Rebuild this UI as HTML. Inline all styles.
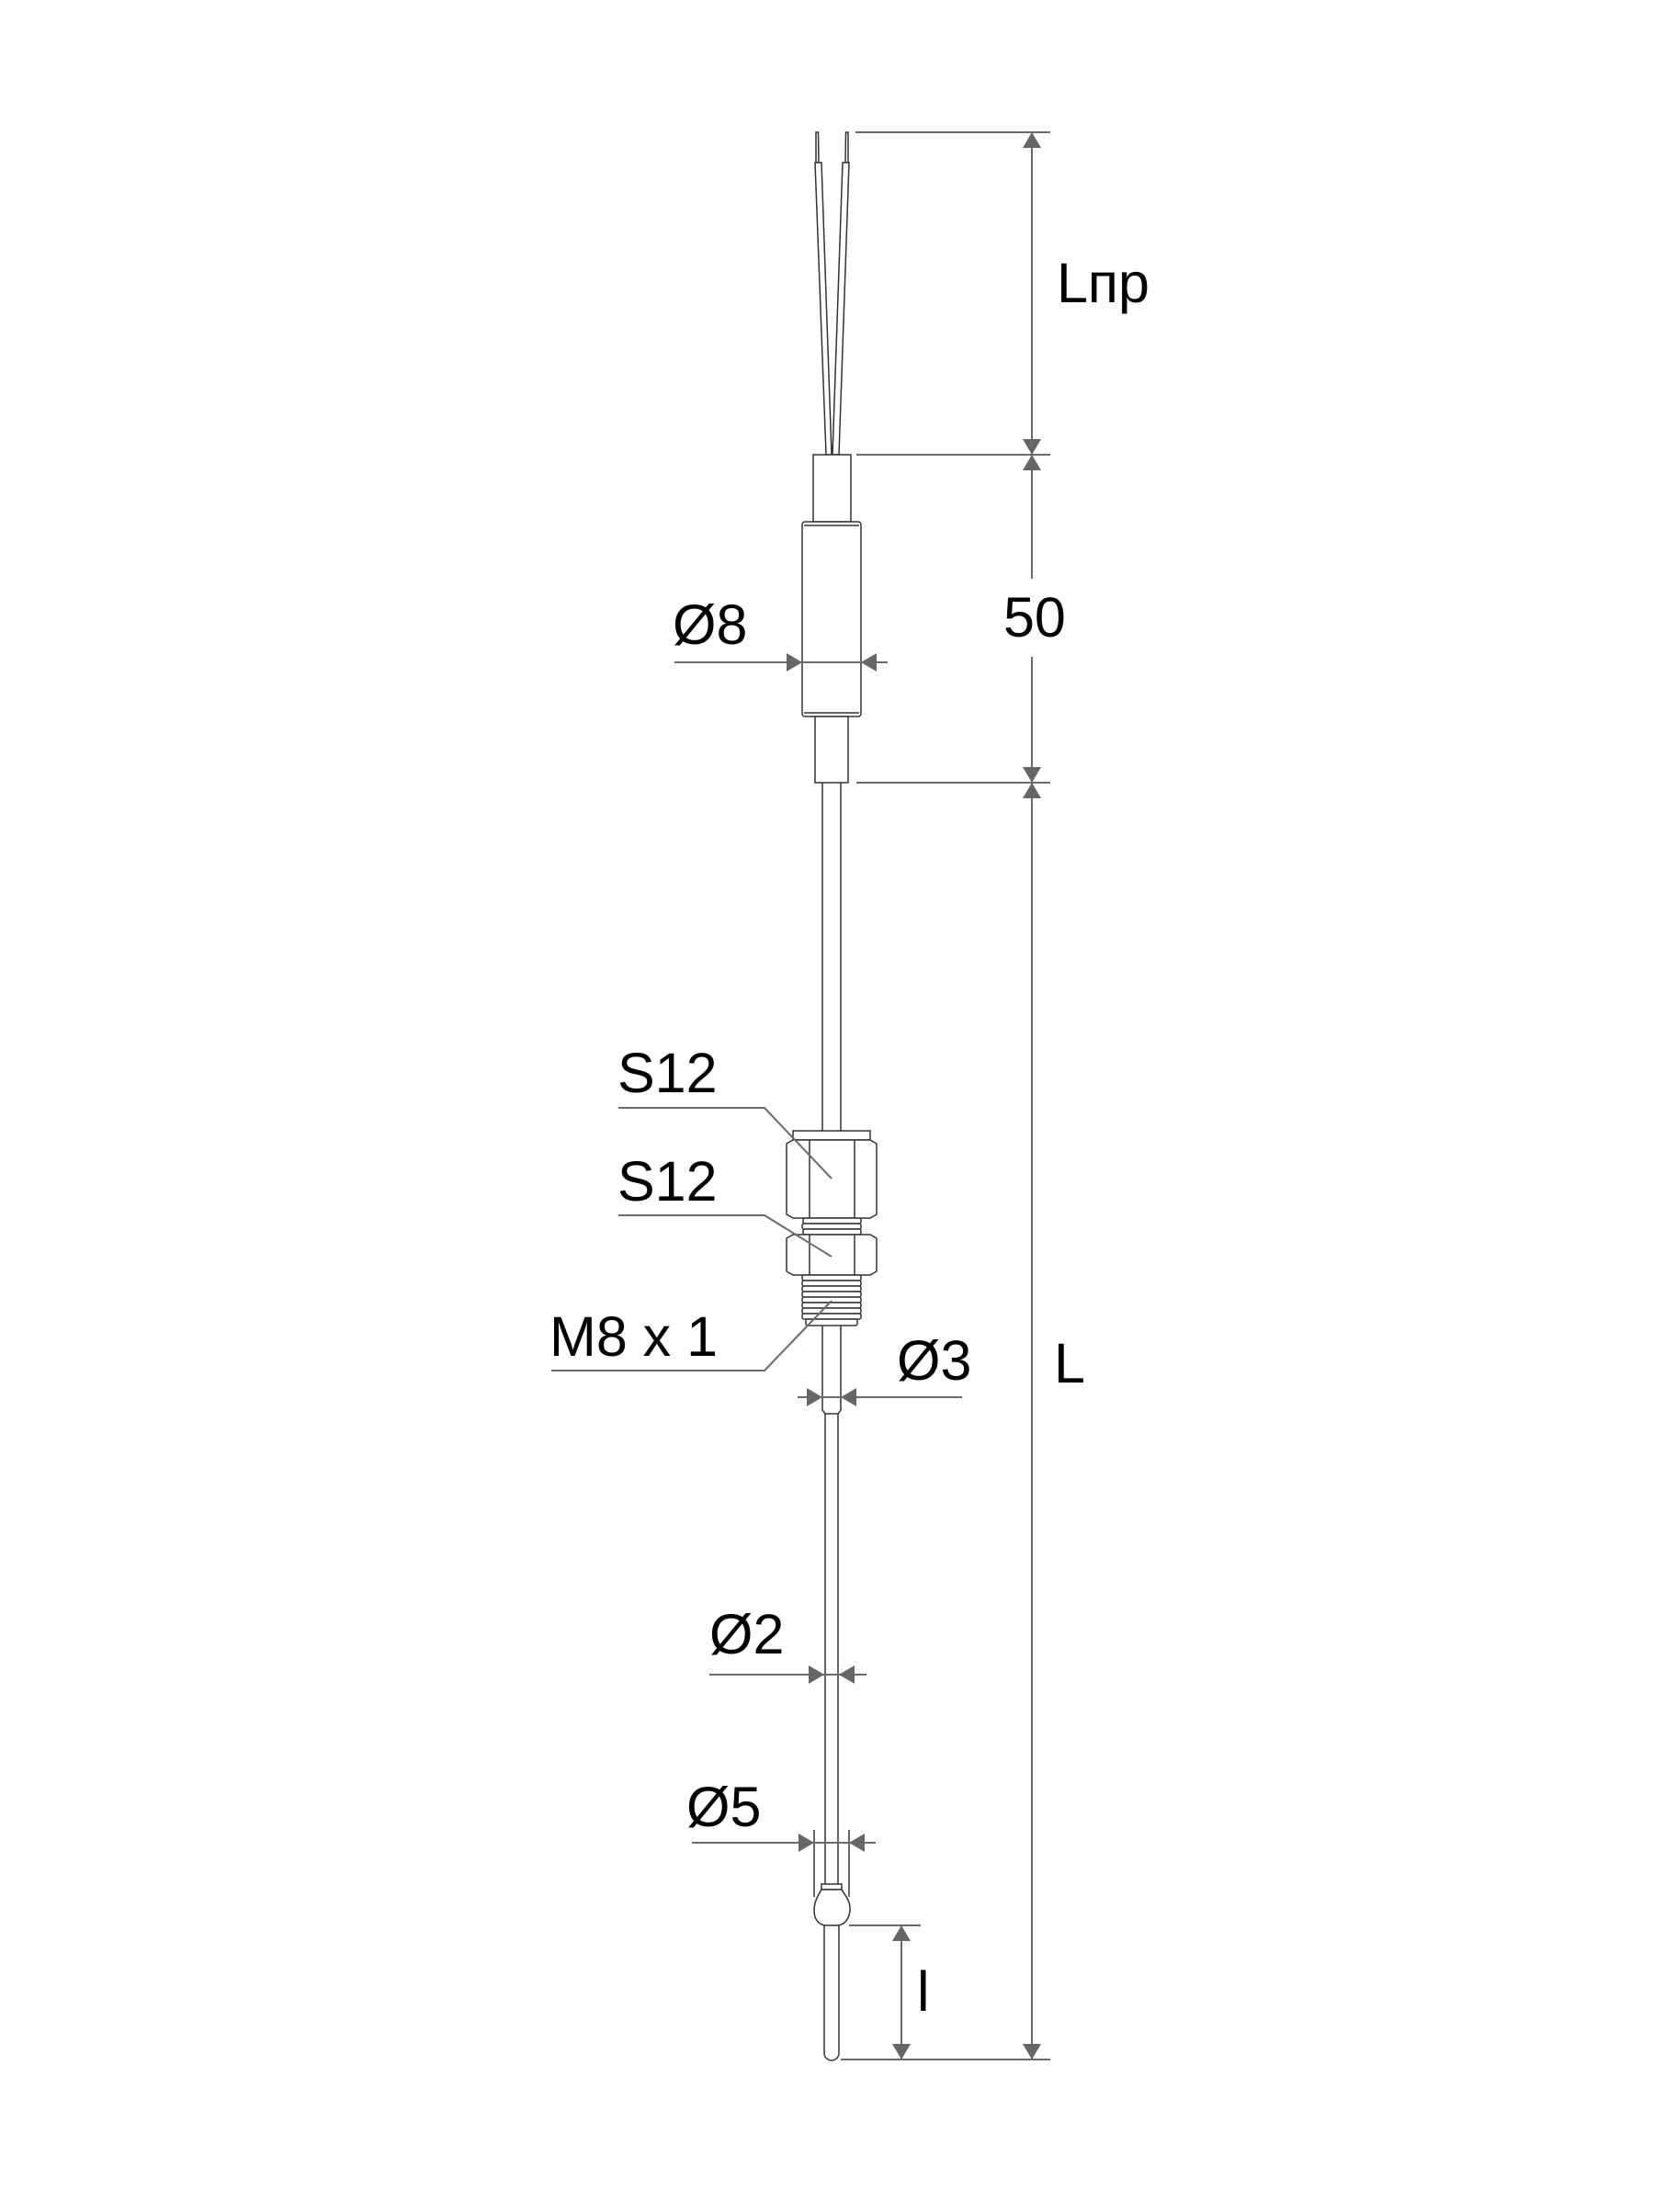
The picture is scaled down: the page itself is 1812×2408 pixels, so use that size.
<!DOCTYPE html>
<html><head><meta charset="utf-8"><style>
html,body{margin:0;padding:0;background:#fff;}
svg{display:block;}
text{font-family:"Liberation Sans",sans-serif;font-size:61px;fill:#000;}
</style></head><body>
<svg width="1812" height="2408" viewBox="0 0 1812 2408" xmlns="http://www.w3.org/2000/svg">
<rect width="1812" height="2408" fill="#fff"/>
<g fill="none" stroke="#333" stroke-width="1.5">
 <polygon points="888,144 890.5,144 891,177 888,177" fill="#fff"/>
 <polygon points="920.5,144 923,144 923,177 920,177" fill="#fff"/>
 <polygon points="887,177 894,177 905,495 899,495" fill="#fff"/>
 <polygon points="917,177 924,177 913,495 906,495" fill="#fff"/>
 <rect x="885" y="495" width="41" height="73" fill="#fff"/>
 <rect x="873" y="568" width="64" height="212" rx="3" fill="#fff"/>
 <line x1="875" y1="572" x2="935" y2="572"/>
 <line x1="875" y1="776" x2="935" y2="776"/>
 <rect x="887" y="780" width="36" height="72" fill="#fff"/>
 <line x1="895" y1="852" x2="895" y2="1231"/>
 <line x1="915" y1="852" x2="915" y2="1231"/>
 <rect x="863" y="1231" width="84" height="10" fill="#fff"/>
 <polygon points="863,1241 947,1241 954,1245 954,1322 947,1326 863,1326 856,1322 856,1245" fill="#fff"/>
 <line x1="881" y1="1241" x2="881" y2="1326"/>
 <line x1="930" y1="1241" x2="930" y2="1326"/>
 <rect x="874" y="1326" width="63" height="6" rx="2" fill="#fff"/>
 <rect x="873" y="1332" width="64" height="6" rx="2" fill="#fff"/>
 <rect x="874" y="1338" width="63" height="6" rx="2" fill="#fff"/>
 <polygon points="863,1344 947,1344 954,1348 954,1384 947,1388 863,1388 856,1384 856,1348" fill="#fff"/>
 <line x1="881" y1="1344" x2="881" y2="1388"/>
 <line x1="930" y1="1344" x2="930" y2="1388"/>
 <rect x="873" y="1388" width="64" height="6" rx="2" fill="#fff"/>
 <rect x="873" y="1394" width="64" height="6" rx="2" fill="#fff"/>
 <rect x="873" y="1400" width="64" height="6" rx="2" fill="#fff"/>
 <rect x="873" y="1406" width="64" height="6" rx="2" fill="#fff"/>
 <rect x="873" y="1412" width="64" height="6" rx="2" fill="#fff"/>
 <rect x="873" y="1418" width="64" height="6" rx="2" fill="#fff"/>
 <rect x="873" y="1424" width="64" height="6" rx="2" fill="#fff"/>
 <rect x="873" y="1430" width="64" height="6" rx="2" fill="#fff"/>
 <rect x="877" y="1436" width="56" height="7" rx="2" fill="#fff"/>
 <line x1="895" y1="1443" x2="895" y2="1535"/>
 <line x1="915" y1="1443" x2="915" y2="1535"/>
 <polyline points="895,1535 898,1539 912,1539 915,1535"/>
 <line x1="898" y1="1539" x2="898" y2="2051"/>
 <line x1="912" y1="1539" x2="912" y2="2051"/>
 <rect x="894" y="2051" width="22" height="6" fill="#fff"/>
 <path d="M894,2057 L916,2057 C920,2064 926,2070 925,2080 C924,2090 918,2096 911,2096 L899,2096 C892,2096 886,2090 886,2080 C886,2070 890,2064 894,2057 Z" fill="#fff"/>
 <path d="M897,2096 L897,2235 A8,8 0 0 0 913,2235 L913,2096"/>
</g>
<g stroke="#6b6b6b" stroke-width="2" fill="none">
 <line x1="931" y1="144" x2="1143" y2="144"/>
 <line x1="932" y1="495" x2="1143" y2="495"/>
 <line x1="932" y1="852" x2="1143" y2="852"/>
 <line x1="915" y1="2242" x2="1143" y2="2242"/>
 <line x1="924" y1="2096" x2="1002" y2="2096"/>
 <line x1="1123" y1="144" x2="1123" y2="630"/>
 <line x1="1123" y1="715" x2="1123" y2="2242"/>
 <line x1="981" y1="2096" x2="981" y2="2242"/>
 <line x1="734" y1="721" x2="966" y2="721"/>
 <polyline points="673,1206 832,1206 905,1283"/>
 <polyline points="673,1323 832,1323 905,1368"/>
 <polyline points="600,1492 832,1492 905,1416"/>
 <line x1="868" y1="1521" x2="1047" y2="1521"/>
 <line x1="772" y1="1823" x2="943" y2="1823"/>
 <line x1="753" y1="2006" x2="953" y2="2006"/>
 <line x1="886" y1="1992" x2="886" y2="2065"/>
 <line x1="924" y1="1992" x2="924" y2="2065"/>
</g>
<g fill="#666">
 <polygon points="1123,144 1113,161 1133,161"/>
 <polygon points="1123,495 1113,478 1133,478"/>
 <polygon points="1123,495 1113,512 1133,512"/>
 <polygon points="1123,852 1113,835 1133,835"/>
 <polygon points="1123,852 1113,869 1133,869"/>
 <polygon points="1123,2242 1113,2225 1133,2225"/>
 <polygon points="981,2096 971,2113 991,2113"/>
 <polygon points="981,2242 971,2225 991,2225"/>
 <polygon points="873,721 856,711 856,731"/>
 <polygon points="937,721 954,711 954,731"/>
 <polygon points="895,1521 878,1511 878,1531"/>
 <polygon points="915,1521 932,1511 932,1531"/>
 <polygon points="897,1823 880,1813 880,1833"/>
 <polygon points="913,1823 930,1813 930,1833"/>
 <polygon points="886,2006 869,1996 869,2016"/>
 <polygon points="924,2006 941,1996 941,2016"/>
</g>
<text x="1150" y="329">Lпр</text>
<text x="1092" y="693">50</text>
<text x="732" y="701">Ø8</text>
<text x="672" y="1189">S12</text>
<text x="672" y="1307">S12</text>
<text x="598" y="1476">M8 x 1</text>
<text x="976" y="1502">Ø3</text>
<text x="1147" y="1505">L</text>
<text x="772" y="1800">Ø2</text>
<text x="747" y="1988">Ø5</text>
<text x="998" y="2189">l</text>
</svg>
</body></html>
